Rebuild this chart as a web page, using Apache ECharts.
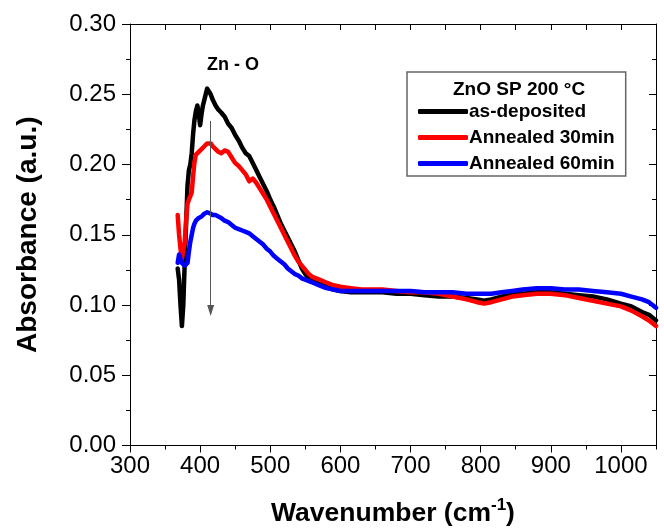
<!DOCTYPE html>
<html>
<head>
<meta charset="utf-8">
<title>ZnO SP 200 C absorbance</title>
<script src="https://cdn.jsdelivr.net/npm/echarts@6.0.0/dist/echarts.min.js"></script>
<style>
    html, body { margin: 0; padding: 0; background: #fff; }
    #chart { width: 664px; height: 532px; }
</style>
</head>
<body>
<div id="chart"></div>
<script>
'use strict';

// wavenumber (cm-1), shared by the three spectra
var wavenumber = [368, 370, 372, 374, 376, 378, 380, 382, 384, 386, 388, 390, 392, 394, 396, 398, 400,
    402, 404, 406, 408, 410, 412, 415, 418, 422, 426, 430, 435, 440, 445, 450, 455, 460, 465, 470,
    475, 480, 485, 490, 495, 500, 505, 510, 515, 520, 525, 530, 535, 540, 545, 550, 555, 560, 570,
    580, 590, 600, 615, 630, 645, 660, 680, 700, 720, 740, 760, 780, 795, 805, 815, 830, 845, 860,
    880, 900, 920, 940, 960, 980, 1000, 1015, 1030, 1040, 1050];

var asDeposited = [0.126, 0.118, 0.100, 0.085, 0.100, 0.130, 0.158, 0.185, 0.196, 0.200, 0.208, 0.222,
    0.232, 0.238, 0.242, 0.236, 0.228, 0.236, 0.242, 0.246, 0.250, 0.254, 0.255, 0.250, 0.246, 0.242,
    0.239, 0.237, 0.234, 0.229, 0.226, 0.221, 0.217, 0.212, 0.208, 0.206, 0.201, 0.196, 0.191, 0.186,
    0.181, 0.175, 0.170, 0.164, 0.158, 0.153, 0.148, 0.143, 0.138, 0.132, 0.126, 0.122, 0.119, 0.117,
    0.115, 0.113, 0.111, 0.110, 0.109, 0.109, 0.109, 0.109, 0.108, 0.108, 0.107, 0.106, 0.106, 0.105,
    0.104, 0.103, 0.104, 0.106, 0.108, 0.108, 0.109, 0.109, 0.108, 0.107, 0.106, 0.104, 0.101, 0.099,
    0.095, 0.093, 0.089];

var annealed30 = [0.164, 0.150, 0.140, 0.133, 0.134, 0.145, 0.160, 0.172, 0.175, 0.176, 0.180, 0.192,
    0.202, 0.207, 0.208, 0.209, 0.210, 0.211, 0.212, 0.213, 0.214, 0.215, 0.216, 0.215, 0.213, 0.211,
    0.209, 0.208, 0.210, 0.209, 0.205, 0.201, 0.199, 0.196, 0.193, 0.188, 0.190, 0.187, 0.183, 0.179,
    0.175, 0.170, 0.165, 0.160, 0.155, 0.150, 0.145, 0.140, 0.135, 0.131, 0.128, 0.125, 0.122, 0.120,
    0.118, 0.116, 0.114, 0.113, 0.112, 0.111, 0.111, 0.111, 0.110, 0.109, 0.109, 0.108, 0.106, 0.104,
    0.102, 0.101, 0.102, 0.104, 0.106, 0.107, 0.108, 0.108, 0.107, 0.105, 0.103, 0.101, 0.099, 0.096,
    0.092, 0.089, 0.085];

var annealed60 = [0.130, 0.136, 0.135, 0.130, 0.129, 0.128, 0.127, 0.130, 0.138, 0.145, 0.150, 0.155,
    0.158, 0.160, 0.161, 0.162, 0.163, 0.163, 0.164, 0.165, 0.166, 0.166, 0.165, 0.165, 0.164, 0.164,
    0.163, 0.162, 0.160, 0.159, 0.157, 0.155, 0.154, 0.153, 0.152, 0.151, 0.149, 0.147, 0.145, 0.143,
    0.140, 0.138, 0.135, 0.133, 0.131, 0.129, 0.126, 0.124, 0.122, 0.121, 0.119, 0.118, 0.117, 0.116,
    0.114, 0.112, 0.111, 0.110, 0.110, 0.110, 0.110, 0.110, 0.110, 0.110, 0.109, 0.109, 0.109, 0.108,
    0.108, 0.108, 0.108, 0.109, 0.110, 0.111, 0.112, 0.112, 0.111, 0.111, 0.110, 0.109, 0.108, 0.106,
    0.104, 0.102, 0.098];

var seriesNames = ['as-deposited', 'Annealed 30min', 'Annealed 60min'];
var seriesColors = ['#000000', '#ff0000', '#0000ff'];

// Zn-O arrow, from top to tip (data coords)
var arrowFrom = [415, 0.231];
var arrowTo = [415, 0.096];

var FONT = 'Liberation Sans, Arial, sans-serif';

function pairs(xs, ys) {
    var out = [];
    for (var i = 0, len = xs.length; i < len; i++) {
        out.push([xs[i], ys[i]]);
    }
    return out;
}

var values = [asDeposited, annealed30, annealed60];
var series = [];
for (var i = 0; i < values.length; i++) {
    series.push({
        name: seriesNames[i],
        type: 'line',
        xAxisIndex: 0,
        yAxisIndex: 0,
        showSymbol: false,
        silent: true,
        data: pairs(wavenumber, values[i]),
        lineStyle: { color: seriesColors[i], width: 4.5, join: 'round', cap: 'round' },
        itemStyle: { color: seriesColors[i] }
    });
}
// arrow hangs off the first series
series[0].markLine = {
    silent: true,
    symbol: ['none', 'triangle'],
    symbolSize: [7, 11],
    label: { show: false },
    lineStyle: { color: '#555', width: 1, type: 'solid' },
    data: [[{ coord: arrowFrom }, { coord: arrowTo }]]
};

var axisLine = { show: true, lineStyle: { color: '#000', width: 1 } };

var option = {
    animation: false,
    backgroundColor: '#fff',
    textStyle: { fontFamily: FONT },
    grid: { left: 130, right: 8, top: 24, bottom: 83, containLabel: false },
    xAxis: [{
        type: 'value', position: 'bottom', min: 300, max: 1050, interval: 100,
        axisLine: axisLine,
        axisTick: { show: true, length: 7, lineStyle: { color: '#000' } },
        axisLabel: {
            show: true, showMaxLabel: false, margin: 9, color: '#000', fontSize: 24, fontFamily: FONT,
            formatter: function (v) { return String(v); }
        },
        splitLine: { show: false },
        name: 'Wavenumber (cm{sup|-1})',
        nameLocation: 'middle',
        nameGap: 51,
        nameTextStyle: {
            color: '#000', fontSize: 26.5, fontWeight: 'bold', fontFamily: FONT,
            rich: { sup: { fontSize: 17, fontWeight: 'bold', fontFamily: FONT, color: '#000', padding: [0, 0, 17, 0] } }
        }
    }, {
        type: 'value', position: 'bottom', min: 300, max: 1050, interval: 50,
        axisLine: axisLine,
        axisTick: { show: true, length: 4, lineStyle: { color: '#000' } },
        axisLabel: { show: false },
        splitLine: { show: false }
    }, {
        type: 'value', position: 'top', min: 300, max: 1050, interval: 50,
        axisLine: axisLine,
        axisTick: { show: true, inside: true, length: 6, lineStyle: { color: '#000' } },
        axisLabel: { show: false },
        splitLine: { show: false }
    }],
    yAxis: [{
        type: 'value', position: 'left', min: 0, max: 0.3, interval: 0.05,
        axisLine: axisLine,
        axisTick: { show: true, length: 8, lineStyle: { color: '#000' } },
        minorTick: { show: true, splitNumber: 2, length: 4, lineStyle: { color: '#000' } },
        axisLabel: {
            margin: 14, color: '#000', fontSize: 24, fontFamily: FONT,
            formatter: function (v) { return v.toFixed(2); }
        },
        splitLine: { show: false },
        minorSplitLine: { show: false },
        name: 'Absorbance (a.u.)',
        nameLocation: 'middle',
        nameGap: 88,
        nameTextStyle: { color: '#000', fontSize: 28, fontWeight: 'bold', fontFamily: FONT }
    }, {
        type: 'value', position: 'right', min: 0, max: 0.3, interval: 0.05,
        axisLine: axisLine,
        axisTick: { show: true, inside: true, length: 7, lineStyle: { color: '#000' } },
        minorTick: { show: true, splitNumber: 2, length: 4, lineStyle: { color: '#000' } },
        axisLabel: { show: false },
        splitLine: { show: false }
    }],
    legend: {
        orient: 'vertical',
        left: 407,
        top: 72,
        data: seriesNames,
        icon: 'roundRect',
        itemWidth: 50,
        itemHeight: 5,
        itemGap: 7,
        padding: [30, 11, 3, 11],
        borderColor: '#666',
        borderWidth: 1.5,
        backgroundColor: '#fff',
        selectedMode: false,
        textStyle: { color: '#000', fontSize: 19, fontWeight: 'bold', fontFamily: FONT, padding: [0, 0, 0, -4] }
    },
    graphic: [{
        type: 'text',
        left: 453,
        top: 80,
        z: 100,
        style: { text: 'ZnO SP 200 \u00b0C', fill: '#000', font: 'bold 19px ' + FONT }
    }, {
        type: 'text',
        left: 207,
        top: 56,
        z: 100,
        style: { text: 'Zn - O', fill: '#000', font: 'bold 18px ' + FONT }
    }],
    series: series
};

var chart = echarts.init(document.getElementById('chart'), null, { renderer: 'canvas' });
chart.setOption(option);
</script>
</body>
</html>
